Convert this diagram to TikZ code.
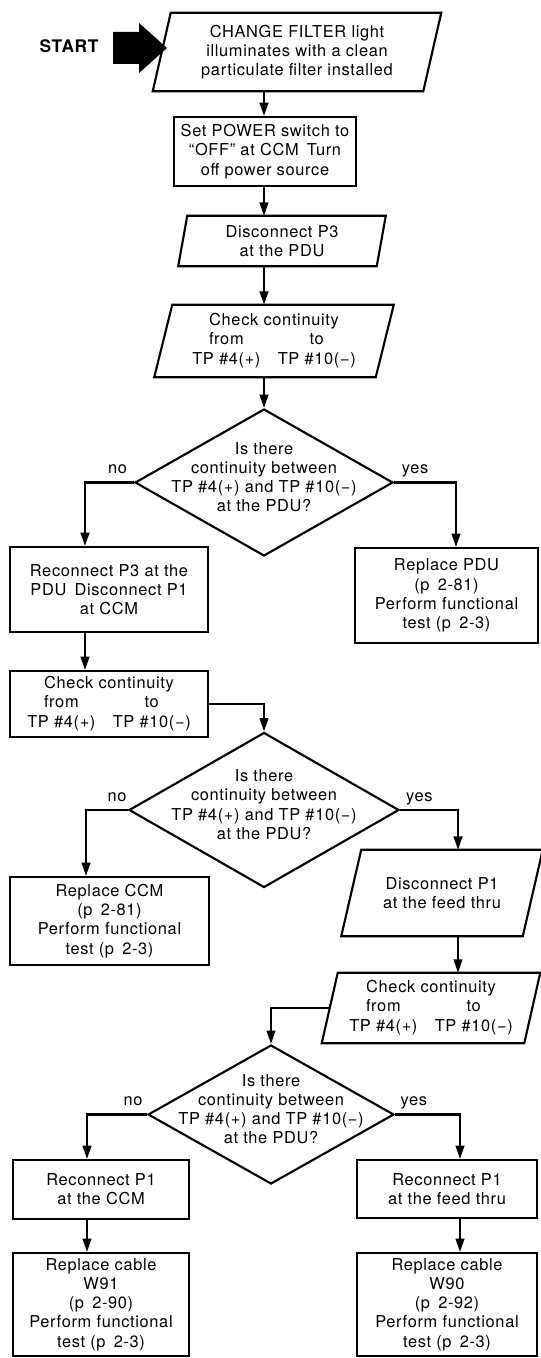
\documentclass[tikz,border=0pt]{standalone}
\usepackage{fontspec}
\setmainfont{TeX Gyre Heros}[LetterSpace=4]
\usetikzlibrary{positioning, arrows.meta, calc, shapes.geometric}

\newcommand{\slantframe}[2]{%
  \draw[frame] ([xshift=-#2]#1.south west) -- ([xshift=#2]#1.north west)
    -- ([xshift=#2]#1.north east) -- ([xshift=-#2]#1.south east) -- cycle;}
\newcommand{\contquestion}{Is there\\continuity between\\TP \#4(+) and TP \#10(−)\\at the PDU?}
\newcommand{\contcheck}{\begin{tabular}{@{}c@{\hspace{13pt}}c@{}}
  \multicolumn{2}{@{}c@{}}{Check continuity}\\ from & to\\ TP \#4(+) & TP \#10(−)\end{tabular}}

\begin{document}
\begin{tikzpicture}[
  x=0.75pt, y=-0.75pt,
  txt/.style={font=\fontsize{12.3pt}{14.4pt}\selectfont, align=center},
  starttxt/.style={font=\fontsize{13pt}{15pt}\selectfont\bfseries},
  box/.style={txt, draw, line width=1.6pt, inner sep=0pt},
  slantbox/.style={txt, inner sep=0pt},
  frame/.style={line width=1.6pt, line join=miter},
  decision/.style={diamond, draw, line width=1.6pt, inner sep=0pt},
  question/.style={txt, yshift=4pt},
  lbl/.style={txt, anchor=base, yshift=6.5pt, inner sep=0pt},
  arr/.style={-{Triangle[length=10pt, width=6.5pt]}, line width=1.6pt}
]
\useasboundingbox (0,0) rectangle (540,1358);

\node[starttxt] (start) at (69,46) {START};
\fill (113,32) -- (139,32) -- (139,23) -- (167,48) -- (139,73) -- (139,64) -- (113,64) -- cycle;

\node[slantbox, minimum width=202.5pt, minimum height=58.5pt] (chg) at (297,52)
  {CHANGE FILTER light\\illuminates with a clean\\particulate filter installed};
\slantframe{chg}{6.75pt}
\node[box, minimum width=137pt, minimum height=51.75pt] (pow) at (265,151.5)
  {Set POWER switch to\\``OFF'' at CCM\enspace Turn\\off power source};
\node[slantbox, minimum width=148.5pt, minimum height=37.5pt] (dp3) at (282,241)
  {Disconnect P3\\at the PDU};
\slantframe{dp3}{3.4pt}
\node[slantbox, minimum width=165.75pt, minimum height=54pt] (ck1) at (274,341) {\contcheck};
\slantframe{ck1}{6.75pt}
\node[decision, minimum width=193.5pt, minimum height=110.25pt,
  label={[question]center:\contquestion}] (d1) at (264,482.5) {};

\node[box, minimum width=148.5pt, minimum height=63.75pt] (rp3) at (109,589.5)
  {Reconnect P3 at the\\PDU\enspace Disconnect P1\\at CCM};
\node[box, minimum width=137.25pt, minimum height=71.25pt] (rpdu) at (446.5,595.5)
  {Replace PDU\\(p\enspace 2-81)\\Perform functional\\test (p\enspace 2-3)};
\node[box, minimum width=148.5pt, minimum height=49.5pt] (ck2) at (109,704) {\contcheck};
\node[decision, minimum width=202.5pt, minimum height=116.25pt,
  label={[question]center:\contquestion}] (d2) at (264,810) {};
\node[box, minimum width=149.25pt, minimum height=66pt] (rccm) at (109.5,921)
  {Replace CCM\\(p\enspace 2-81)\\Perform functional\\test (p\enspace 2-3)};
\node[slantbox, minimum width=135.75pt, minimum height=64.5pt] (dp1) at (442,893)
  {Disconnect P1\\at the feed thru};
\slantframe{dp1}{7.5pt}
\node[slantbox, minimum width=151.5pt, minimum height=52.5pt] (ck3) at (431,1008) {\contcheck};
\slantframe{ck3}{6pt}
\node[decision, minimum width=184.5pt, minimum height=104.25pt,
  label={[question]center:\contquestion}] (d3) at (271,1114.5) {};

\node[box, minimum width=132pt, minimum height=44.25pt] (rp1c) at (101,1189.5)
  {Reconnect P1\\at the CCM};
\node[box, minimum width=132pt, minimum height=77.25pt] (w91) at (101,1304.5)
  {Replace cable\\W91\\(p\enspace 2-90)\\Perform functional\\test (p\enspace 2-3)};
\node[box, minimum width=135pt, minimum height=43.5pt] (rp1f) at (447,1189)
  {Reconnect P1\\at the feed thru};
\node[box, minimum width=135pt, minimum height=77.25pt] (w90) at (447,1304.5)
  {Replace cable\\W90\\(p\enspace 2-92)\\Perform functional\\test (p\enspace 2-3)};

\coordinate (spine) at (264,0);
\coordinate (leftA) at (85,0);
\coordinate (rightA) at (456,0);
\coordinate (leftB) at (86,0);
\coordinate (rightB) at (458,0);
\coordinate (leftC) at (87,0);
\coordinate (rightC) at (460,0);

\draw[arr] (chg.south -| spine) -- (spine |- pow.north);
\draw[arr] (spine |- pow.south) -- (spine |- dp3.north);
\draw[arr] (spine |- dp3.south) -- (spine |- ck1.north);
\draw[arr] (spine |- ck1.south) -- (d1.north);
\draw[arr] (d1.west) -| node[lbl, pos=0.167] {no} (leftA |- rp3.north);
\draw[arr] (d1.east) -| node[lbl, pos=0.17] {yes} (rightA |- rpdu.north);
\draw[arr] (leftA |- rp3.south) -- (leftA |- ck2.north);
\draw[arr] (ck2.east) -| (d2.north);
\draw[arr] (d2.west) -| node[lbl, pos=0.13] {no} (leftB |- rccm.north);
\draw[arr] (d2.east) -| node[lbl, pos=0.167] {yes} (rightB |- dp1.north);
\draw[arr] (rightB |- dp1.south) -- (rightB |- ck3.north);
\draw[arr] (ck3.west) -| (d3.north);
\draw[arr] (d3.west) -| node[lbl, pos=0.115] {no} (leftC |- rp1c.north);
\draw[arr] (d3.east) -| node[lbl, pos=0.145] {yes} (rightC |- rp1f.north);
\draw[arr] (leftC |- rp1c.south) -- (leftC |- w91.north);
\draw[arr] (rightC |- rp1f.south) -- (rightC |- w90.north);
\end{tikzpicture}
\end{document}
